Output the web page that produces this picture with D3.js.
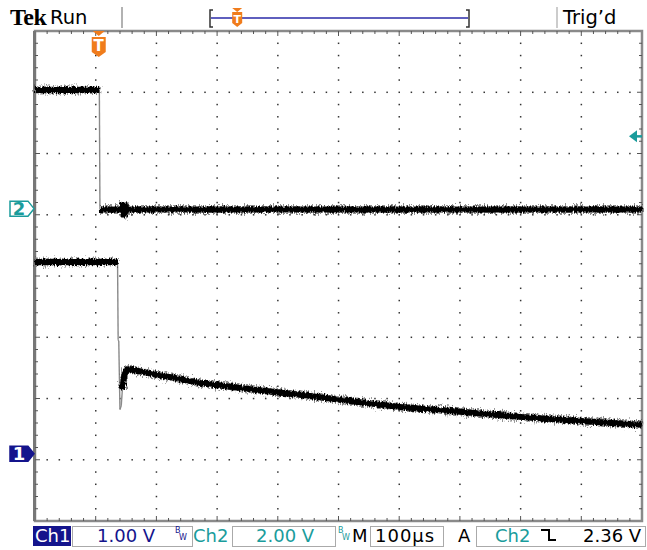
<!DOCTYPE html>
<html>
<head>
<meta charset="utf-8">
<script src="https://cdn.jsdelivr.net/npm/d3@7"></script>
<style>
  body { margin: 0; background: #fff; }
  svg { display: block; }
  text { font-family: "DejaVu Sans", sans-serif; }
</style>
</head>
<body>
<div id="scope"></div>
<script>
// scope settings
const timePerDiv = 100;      // µs
const trigPosDiv = 1.05;     // trigger point, divisions from left
const ch1VoltsPerDiv = 1;
const ch2VoltsPerDiv = 2;
const ch1Offset = -2.9;      // ground marker, divisions from centre
const ch2Offset = 1.1;
const trigLevel = 2.36;      // V on ch2

// traces (time in µs from trigger, volts)
const ch1Time  = [-105, 31, 32, 33, 35, 37, 39, 42, 46, 52, 60, 80, 170, 250, 332, 420, 497, 600, 694, 800, 895];
const ch1Volts = [3.13, 3.13, 1.86, 1.84, 0.72, 0.78, 1.05, 1.28, 1.37, 1.38, 1.36, 1.32, 1.15, 1.05, 0.96, 0.85, 0.76, 0.68, 0.60, 0.53, 0.47];
const ch2Time  = [-105, 1, 2, 38, 40, 42, 44, 46, 895];
const ch2Volts = [3.87, 3.87, -0.03, -0.03, 0.18, -0.28, 0.15, -0.03, -0.03];

// readout texts
const statusLabels = {ch1: "Ch1", ch1Scale: "1.00 V", ch2: "Ch2", ch2Scale: "2.00 V",
  time: "100µs", trigSrc: "Ch2", trigVal: "2.36 V"};

const W = 647, H = 550;
const gLeft = 35, gRight = 642, gTop = 31, gBottom = 521;
const navy = "#14148c", teal = "#1a9c9c", orange = "#f07c1c";

const svg = d3.select("#scope").append("svg")
    .attr("width", W).attr("height", H);

const defs = svg.append("defs");
// trace noise look
const f1 = defs.append("filter").attr("id", "fuzz")
    .attr("filterUnits", "userSpaceOnUse")
    .attr("x", 0).attr("y", 0).attr("width", W).attr("height", H);
f1.append("feTurbulence").attr("type", "fractalNoise")
    .attr("baseFrequency", "0.9 0.2").attr("numOctaves", 2).attr("seed", 4).attr("result", "n");
f1.append("feDisplacementMap").attr("in", "SourceGraphic").attr("in2", "n")
    .attr("scale", 5).attr("xChannelSelector", "R").attr("yChannelSelector", "G");
const f2 = defs.append("filter").attr("id", "fuzz2")
    .attr("filterUnits", "userSpaceOnUse")
    .attr("x", 0).attr("y", 0).attr("width", W).attr("height", H);
f2.append("feTurbulence").attr("type", "fractalNoise")
    .attr("baseFrequency", "1.1 0.3").attr("numOctaves", 2).attr("seed", 9).attr("result", "n");
f2.append("feDisplacementMap").attr("in", "SourceGraphic").attr("in2", "n")
    .attr("scale", 11).attr("xChannelSelector", "R").attr("yChannelSelector", "G");

// scales
var xDiv = d3.scaleLinear().domain([0, 10]).range([gLeft, gRight]);
var yDiv = d3.scaleLinear().domain([-4, 4]).range([gBottom, gTop]);
var x = d3.scaleLinear()
    .domain([-trigPosDiv * timePerDiv, (10 - trigPosDiv) * timePerDiv])
    .range([gLeft, gRight]);
var y1 = d3.scaleLinear()
    .domain([-4 - ch1Offset, 4 - ch1Offset].map(d => d * ch1VoltsPerDiv))
    .range([gBottom, gTop]);
var y2 = d3.scaleLinear()
    .domain([-4 - ch2Offset, 4 - ch2Offset].map(d => d * ch2VoltsPerDiv))
    .range([gBottom, gTop]);

// graticule
const g = svg.append("g");
g.append("rect").attr("x", gLeft).attr("y", gTop)
    .attr("width", gRight - gLeft).attr("height", gBottom - gTop)
    .attr("fill", "#fff").attr("stroke", "#8a8a8a").attr("stroke-width", 2.5);
g.append("line").attr("x1", gLeft - 0.5).attr("x2", gLeft - 0.5).attr("y1", gTop).attr("y2", gBottom)
    .attr("stroke", "#777").attr("stroke-width", 3);

var dots = [];
for (let i = 1; i < 10; i++) {
  for (let j = 1; j < 40; j++) dots.push([xDiv(i), yDiv(-4 + j / 5)]);
}
for (let k = 1; k < 8; k++) {
  for (let j = 1; j < 50; j++) {
    if (j % 5 !== 0) dots.push([xDiv(j / 5), yDiv(-4 + k)]);
  }
}
g.selectAll(".dot").data(dots).enter().append("rect")
    .attr("x", d => d[0] - 0.7).attr("y", d => d[1] - 0.7)
    .attr("width", 1.5).attr("height", 1.5).attr("fill", "#333");

// edge ticks
var ticks = [];
for (let j = 1; j < 50; j++) {
  let len = j % 5 === 0 ? 5 : 3;
  ticks.push([xDiv(j / 5), gTop, xDiv(j / 5), gTop + len]);
  ticks.push([xDiv(j / 5), gBottom, xDiv(j / 5), gBottom - len]);
}
for (let j = 1; j < 40; j++) {
  let len = j % 5 === 0 ? 5 : 3;
  ticks.push([gLeft, yDiv(-4 + j / 5), gLeft + len, yDiv(-4 + j / 5)]);
  ticks.push([gRight, yDiv(-4 + j / 5), gRight - len, yDiv(-4 + j / 5)]);
}
g.selectAll(".tk").data(ticks).enter().append("line")
    .attr("x1", d => d[0]).attr("y1", d => d[1])
    .attr("x2", d => d[2]).attr("y2", d => d[3])
    .attr("stroke", "#555").attr("stroke-width", 1);

// split a trace into dense (slow) runs and thin fast edges
const drawTrace = (times, volts, yScale) => {
  let pts = times.map((t, i) => [x(t), yScale(volts[i])]);
  let runs = [], edges = [], cur = [pts[0]];
  const endRun = () => {
    if (cur.length > 1) {
      if (cur[cur.length - 1][0] - cur[0][0] < 4) d3.pairs(cur).forEach(p => edges.push(p));
      else runs.push(cur);
    }
  };
  d3.pairs(pts).forEach(([a, b]) => {
    let steep = Math.abs(b[1] - a[1]) > 3 * Math.abs(b[0] - a[0]) && Math.abs(b[1] - a[1]) > 16;
    if (steep) {
      edges.push([a, b]);
      endRun();
      cur = [b];
    } else {
      cur.push(b);
    }
  });
  endRun();

  var line = d3.line();
  svg.append("g").selectAll("path").data(edges).enter().append("path")
      .attr("d", line).attr("fill", "none")
      .attr("stroke", "#8a8a8a").attr("stroke-width", 1.4);
  svg.append("g").attr("filter", "url(#fuzz2)").selectAll("path").data(runs).enter().append("path")
      .attr("d", line).attr("fill", "none")
      .attr("stroke", "#333").attr("stroke-width", 7).attr("stroke-opacity", 0.55);
  svg.append("g").attr("filter", "url(#fuzz)").selectAll("path").data(runs).enter().append("path")
      .attr("d", line).attr("fill", "none")
      .attr("stroke", "#000").attr("stroke-width", 6);
};

drawTrace(ch2Time, ch2Volts, y2);
drawTrace(ch1Time, ch1Volts, y1);

// trigger marker at top of graticule
const tx = x(0);
svg.append("path")
    .attr("d", `M${tx - 6},${gTop} L${tx + 6},${gTop} L${tx},${gTop + 5} Z`)
    .attr("fill", orange);
svg.append("path")
    .attr("d", `M${tx - 7},${gTop + 6} H${tx + 7} V${gTop + 21} L${tx},${gTop + 26} L${tx - 7},${gTop + 21} Z`)
    .attr("fill", orange);
svg.append("text").attr("x", tx).attr("y", gTop + 20).attr("text-anchor", "middle")
    .attr("font-size", 15).attr("font-weight", "bold").attr("fill", "#fff").text("T");

// trigger level arrow on the right
const ty = y2(trigLevel);
svg.append("path")
    .attr("d", `M${gRight - 13},${ty} L${gRight - 5},${ty - 6} L${gRight - 5},${ty + 6} Z`)
    .attr("fill", teal);
svg.append("line").attr("x1", gRight - 6).attr("x2", gRight).attr("y1", ty).attr("y2", ty)
    .attr("stroke", teal).attr("stroke-width", 2.5);

// channel ground markers
const marker = (yy, label, col, filled) => {
  svg.append("path")
      .attr("d", `M10,${yy - 7.5} H28 L34,${yy} L28,${yy + 7.5} H10 Z`)
      .attr("fill", filled ? col : "#fff").attr("stroke", col).attr("stroke-width", 1.5);
  svg.append("text").attr("x", 19).attr("y", yy + 6.5).attr("text-anchor", "middle")
      .attr("font-size", 18).attr("font-weight", "bold")
      .attr("fill", filled ? "#fff" : col).text(label);
};
marker(yDiv(ch2Offset), "2", teal, false);
marker(yDiv(ch1Offset), "1", navy, true);

// header
svg.append("text").attr("x", 10).attr("y", 25)
    .style("font-family", "'Liberation Serif', serif").attr("font-weight", "bold")
    .attr("font-size", 24).attr("letter-spacing", -0.5).text("Tek");
svg.append("text").attr("x", 50).attr("y", 24).attr("font-size", 19.5).text("Run");
svg.append("line").attr("x1", 122).attr("x2", 122).attr("y1", 7).attr("y2", 28)
    .attr("stroke", "#999").attr("stroke-width", 1.5);
svg.append("line").attr("x1", 557).attr("x2", 557).attr("y1", 7).attr("y2", 28)
    .attr("stroke", "#bbb").attr("stroke-width", 1.5);
svg.append("text").attr("x", 563).attr("y", 24).attr("font-size", 19.5).text("Trig\u2019d");

// record position bar
svg.append("path").attr("d", "M213,10 H210 V27 H213").attr("fill", "none")
    .attr("stroke", "#333").attr("stroke-width", 1.5);
svg.append("path").attr("d", "M466,10 H469 V27 H466").attr("fill", "none")
    .attr("stroke", "#333").attr("stroke-width", 1.5);
svg.append("line").attr("x1", 211).attr("x2", 468).attr("y1", 18).attr("y2", 18)
    .attr("stroke", "#2a2aa8").attr("stroke-width", 1.6);
const bx = 210 + (469 - 210) * trigPosDiv / 10;
svg.append("path").attr("d", `M${bx - 5},8 H${bx + 5} L${bx},12 Z`).attr("fill", orange);
svg.append("path")
    .attr("d", `M${bx - 5},12 H${bx + 5} V23 L${bx},27 L${bx - 5},23 Z`).attr("fill", orange);
svg.append("text").attr("x", bx).attr("y", 23).attr("text-anchor", "middle")
    .attr("font-size", 11).attr("font-weight", "bold").attr("fill", "#fff").text("T");

// status bar
const sb = svg.append("g");
sb.append("rect").attr("x", 33).attr("y", 526).attr("width", 38).attr("height", 20).attr("fill", navy);
sb.append("text").attr("x", 35).attr("y", 542).attr("font-size", 18).attr("fill", "#fff").text(statusLabels.ch1);
[[72, 120], [232, 103], [370, 73], [476, 169]].forEach(b => {
  sb.append("rect").attr("x", b[0] + 0.5).attr("y", 526.5).attr("width", b[1]).attr("height", 20)
      .attr("fill", "none").attr("stroke", "#aaa").attr("stroke-width", 1);
});
sb.append("text").attr("x", 97).attr("y", 542).attr("font-size", 18).attr("fill", navy).text(statusLabels.ch1Scale);
const bw = (xx, col) => {
  sb.append("text").attr("x", xx).attr("y", 533).attr("font-size", 8).attr("fill", col).text("B");
  sb.append("text").attr("x", xx + 4).attr("y", 540).attr("font-size", 8).attr("fill", col).text("W");
};
bw(175, navy);
sb.append("text").attr("x", 193).attr("y", 542).attr("font-size", 18).attr("fill", teal).text(statusLabels.ch2);
sb.append("text").attr("x", 256).attr("y", 542).attr("font-size", 18).attr("fill", teal).text(statusLabels.ch2Scale);
bw(338, teal);
sb.append("text").attr("x", 352).attr("y", 542).attr("font-size", 18).text("M");
sb.append("text").attr("x", 375).attr("y", 542).attr("font-size", 18).attr("letter-spacing", 1).text(statusLabels.time);
sb.append("text").attr("x", 458).attr("y", 542).attr("font-size", 18).text("A");
sb.append("text").attr("x", 495).attr("y", 542).attr("font-size", 18).attr("fill", teal).text(statusLabels.trigSrc);
sb.append("path").attr("d", "M541,530 H549 V540 H556").attr("fill", "none")
    .attr("stroke", "#000").attr("stroke-width", 2);
sb.append("text").attr("x", 583).attr("y", 542).attr("font-size", 18).text(statusLabels.trigVal);
</script>
</body>
</html>
